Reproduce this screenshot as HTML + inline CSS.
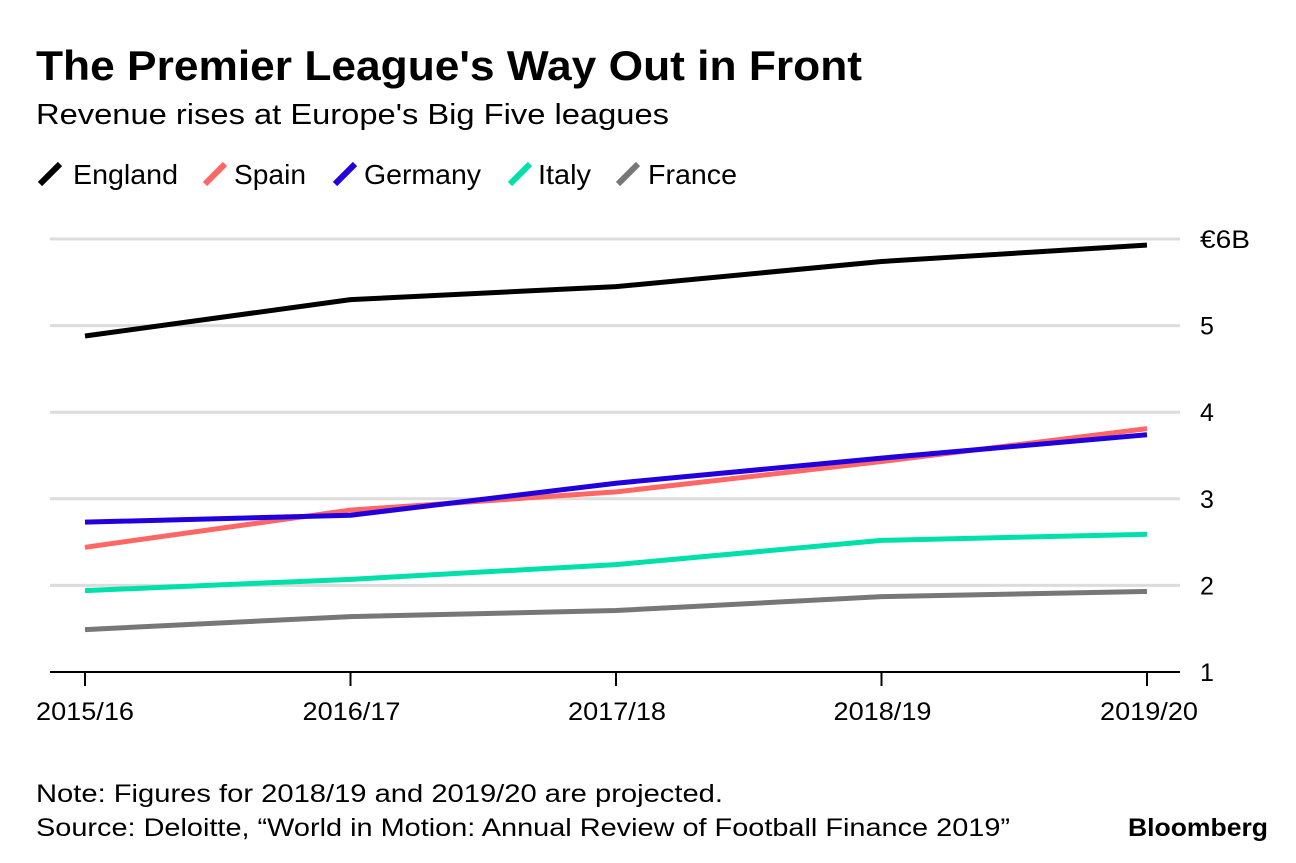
<!DOCTYPE html>
<html><head><meta charset="utf-8"><style>
body{margin:0;background:#fff;width:1296px;height:858px;overflow:hidden;font-family:"Liberation Sans",sans-serif;}
svg text{font-family:"Liberation Sans",sans-serif;}
</style></head><body>
<svg id="c" width="1296" height="858">
<text x="36" y="80" font-size="42" font-weight="bold" fill="#000" textLength="826" lengthAdjust="spacingAndGlyphs">The Premier League's Way Out in Front</text>
<text x="36" y="124" font-size="29" fill="#000" textLength="633" lengthAdjust="spacingAndGlyphs">Revenue rises at Europe's Big Five leagues</text>
<g id="legend"></g>
<g id="grid"></g>
<g id="xaxis"></g>
<g id="lines"></g>
<text x="36" y="802" font-size="25" fill="#000" textLength="687" lengthAdjust="spacingAndGlyphs">Note: Figures for 2018/19 and 2019/20 are projected.</text>
<text x="36" y="836" font-size="25" fill="#000" textLength="974" lengthAdjust="spacingAndGlyphs">Source: Deloitte, “World in Motion: Annual Review of Football Finance 2019”</text>
<text x="1128" y="836" font-size="25" font-weight="bold" fill="#000" textLength="140" lengthAdjust="spacingAndGlyphs">Bloomberg</text>
</svg>
<script>
const categories=["2015/16","2016/17","2017/18","2018/19","2019/20"];
const seriesNames=["England","Spain","Germany","Italy","France"];
const seriesColors=["#000000","#ff6666","#2200dd","#00e0aa","#777777"];
const england=[4.88,5.30,5.45,5.74,5.93];
const spain=[2.44,2.87,3.08,3.43,3.81];
const germany=[2.73,2.81,3.18,3.47,3.74];
const italy=[1.94,2.07,2.24,2.52,2.59];
const france=[1.49,1.64,1.71,1.87,1.93];
const yTicks=[1,2,3,4,5,6];
const yTickLabels=["1","2","3","4","5","€6B"];
const NS="http://www.w3.org/2000/svg";
function mk(t,a,p){const e=document.createElementNS(NS,t);for(const k in a)e.setAttribute(k,a[k]);p.appendChild(e);return e;}
const xS=i=>85+i*(1147-85)/(categories.length-1);
const yS=v=>672-(v-1)*(672-239)/5;
const grid=document.getElementById('grid');
yTicks.forEach((t,i)=>{
  if(t>1){const l=mk('line',{x1:50,x2:1180,y1:yS(t),y2:yS(t),stroke:'#dcdcdc','stroke-width':3},grid);
  
  }
  const a={x:1200,y:yS(t)+9,'font-size':25,fill:'#000'};
  if(t==6){a.textLength=50;a.lengthAdjust='spacingAndGlyphs';}
  const tx=mk('text',a,grid);
  tx.textContent=yTickLabels[i];
  
  
});
const xa=document.getElementById('xaxis');
const base=mk('line',{x1:50,x2:1180,y1:672,y2:672,stroke:'#000','stroke-width':2},xa);


categories.forEach((c,i)=>{
  const tk=mk('line',{x1:xS(i),x2:xS(i),y1:672,y2:686,stroke:'#000','stroke-width':2},xa);
  
  
  const xx=i==0?36:(i==categories.length-1?1100:xS(i)-48);
  const t=mk('text',{x:xx,y:720,'font-size':25,fill:'#000',textLength:98,lengthAdjust:'spacingAndGlyphs'},xa);
  t.textContent=c;
  
  
});
const data=[england,spain,germany,italy,france];
const lg=document.getElementById('lines');
[4,3,1,2,0].forEach(s=>{
  const pts=data[s].map((v,i)=>xS(i)+','+yS(v)).join(' ');
  const p=mk('polyline',{points:pts,fill:'none',stroke:seriesColors[s],'stroke-width':5,'stroke-linejoin':'round'},lg);
  
  
});
const leg=document.getElementById('legend');
const legX=[38,203,333,508,616];
const legTX=[73,234,364,538,648];
const legW=[105,72,117,53,89];
seriesNames.forEach((n,i)=>{
  const l=mk('line',{x1:legX[i]+2,y1:184,x2:legX[i]+22,y2:164,stroke:seriesColors[i],'stroke-width':6},leg);
  
  
  const t=mk('text',{x:legTX[i],y:184,'font-size':28,fill:'#000',textLength:legW[i],lengthAdjust:'spacingAndGlyphs'},leg);
  t.textContent=n;
  
  
});
</script>
</body></html>
